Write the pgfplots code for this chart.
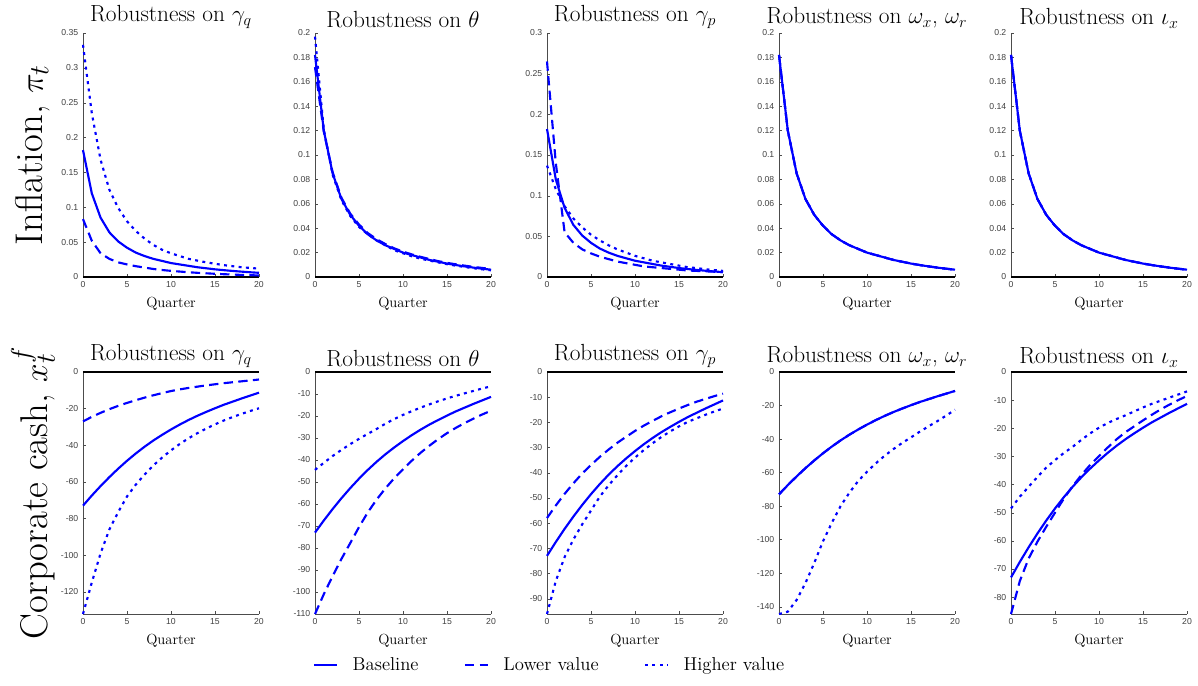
\documentclass[border=0pt]{standalone}
\usepackage{fontspec}
\usepackage{pgfplots}
\usepackage{pgfplotstable}
\pgfplotsset{compat=1.18}
\newfontfamily\tickfont{Liberation Sans}

% inflation responses (row 1)
\pgfplotstableread{
t  base   gqL    gqH    thL    thH    gpL   gpH
0  0.182  0.083  0.333  0.172  0.197  0.265 0.137
1  0.120  0.052  0.235  0.119  0.121  0.140 0.108
2  0.085  0.034  0.168  0.086  0.084  0.055 0.087
3  0.064  0.026  0.125  0.065  0.063  0.042 0.072
4  0.051  0.021  0.099  0.052  0.050  0.034 0.061
5  0.042  0.018  0.080  0.043  0.041  0.029 0.052
6  0.035  0.0155 0.066  0.036  0.035  0.025 0.045
7  0.030  0.0135 0.055  0.031  0.030  0.022 0.039
8  0.026  0.0115 0.046  0.027  0.026  0.019 0.034
9  0.023  0.0100 0.039  0.0235 0.022  0.017 0.030
10 0.020  0.0088 0.034  0.0208 0.0195 0.015 0.026
11 0.018  0.0078 0.030  0.0185 0.017  0.013 0.023
12 0.016  0.0068 0.026  0.0165 0.015  0.012 0.020
13 0.014  0.0060 0.0235 0.0147 0.0135 0.011 0.018
14 0.0125 0.0053 0.021  0.013  0.012  0.010 0.016
15 0.011  0.0046 0.019  0.0116 0.0105 0.009 0.014
16 0.0098 0.0040 0.017  0.0104 0.0093 0.008 0.012
17 0.0087 0.0035 0.0155 0.0093 0.0082 0.0075 0.011
18 0.0077 0.0030 0.014  0.0083 0.0072 0.007 0.0095
19 0.0068 0.0026 0.013  0.0074 0.0063 0.0065 0.0085
20 0.006  0.0022 0.012  0.0066 0.0055 0.006 0.0075
}\infl

% corporate cash responses (row 2)
\pgfplotstableread{
t  base  gqL   gqH    thL    thH   gpL   gpH   wxH    ixL   ixH
0  -73   -27   -132.2 -110   -44.5 -58   -96.1 -144.4 -86   -48.5
1  -67.5 -24.5 -115   -101   -41.3 -53   -83   -143   -74.3 -44.3
2  -62.3 -22.3 -99    -92.8  -38.2 -48.4 -73.5 -136   -66.3 -40.8
3  -57.4 -20.3 -86    -85    -35.4 -44.2 -66.5 -126   -60.3 -37.3
4  -52.8 -18.5 -76.5  -77.8  -32.8 -40.3 -60.5 -114   -55   -34
5  -48.5 -16.9 -68    -70.5  -30.4 -36.9 -55   -101   -50   -31.3
6  -44.5 -15.4 -61.5  -63.8  -28.1 -33.7 -49.5 -90    -45   -28.8
7  -40.8 -14.0 -56    -58    -25.9 -30.8 -45   -80    -40.6 -26.6
8  -37.4 -12.7 -51    -52.9  -23.5 -28.1 -41   -72    -36.6 -24.1
9  -34.3 -11.5 -46.7  -48.3  -21.4 -25.7 -37.3 -65    -33   -21.8
10 -31.4 -10.4 -42.8  -44.3  -19.5 -23.4 -34   -59.5  -29.9 -19.8
11 -28.7 -9.5  -39.3  -40.3  -17.8 -21.3 -31   -54.5  -26.8 -18.1
12 -26.2 -8.7  -36.2  -36.7  -16.2 -19.4 -28.3 -50    -23.9 -16.7
13 -23.9 -8.0  -33.4  -33.5  -14.7 -17.6 -25.8 -46    -21.4 -15.4
14 -21.8 -7.3  -30.9  -30.5  -13.3 -16   -23.6 -42.3  -19.3 -14
15 -19.8 -6.7  -28.6  -27.8  -12   -14.5 -21.6 -39    -17.2 -12.6
16 -17.9 -6.1  -26.5  -25.4  -10.8 -13.1 -19.8 -35.6  -15.2 -11.3
17 -16.2 -5.6  -24.6  -23.2  -9.7  -11.8 -18.4 -32.4  -13.3 -10.2
18 -14.5 -5.1  -22.9  -21.2  -8.6  -10.7 -17   -29.3  -11.6 -9.1
19 -12.9 -4.6  -21.3  -19.3  -7.5  -9.6  -15.7 -26    -10   -8
20 -11.3 -4.1  -19.8  -17.6  -6.5  -8.6  -14.5 -22.5  -8.5  -6.9
}\cash

\pgfplotsset{
  panel/.style={
    scale only axis, width=132pt, anchor=north west,
    xmin=0, xmax=20, xtick={0,5,10,15,20},
    axis lines*=left,
    axis line style={black!70, line width=0.5pt, -},
    tick align=inside, major tick length=2pt, tick style={black!70},
    tick label style={font=\tickfont\fontsize{6.5}{7}\selectfont, text=black!75},
    /pgf/number format/assume math mode=true,
    scaled y ticks=false,
    yticklabel style={/pgf/number format/fixed, /pgf/number format/precision=2},
    xlabel={Quarter},
    xlabel style={font=\fontsize{11}{13}\selectfont, at={(axis description cs:0.5,0)}, anchor=center, yshift=-20pt},
    title style={font=\fontsize{17.5}{20}\selectfont, yshift=-6pt},
    ylabel style={font=\fontsize{29}{33}\selectfont, at={(axis description cs:-0.284,0.5)}, anchor=center},
    clip=false,
  },
  row1/.style={panel, height=183pt, ymin=0},
  row2/.style={panel, height=181.5pt, ymax=0},
  base/.style={blue, line width=1.6pt},
  low/.style={blue, line width=1.6pt, dash pattern=on 7pt off 4pt},
  high/.style={blue, line width=1.6pt, dash pattern=on 2.2pt off 3.3pt},
  zero/.style={black, line width=1.5pt, forget plot},
}

\begin{document}
\begin{tikzpicture}
\path[use as bounding box] (0,0) rectangle (898.5pt,-513.75pt);

% ---- row 1: inflation
\begin{axis}[row1, at={(62.25pt,-24.75pt)}, ymax=0.35,
  ytick={0,0.05,0.1,0.15,0.2,0.25,0.3,0.35},
  title={Robustness on $\gamma_q$}, ylabel={Inflation, $\pi_t$}]
  \addplot[zero] coordinates {(0,0) (20,0)};
  \addplot[base] table[x=t, y=base] {\infl};
  \addplot[low]  table[x=t, y=gqL] {\infl};
  \addplot[high] table[x=t, y=gqH] {\infl};
\end{axis}

\begin{axis}[row1, at={(236.25pt,-24.75pt)}, ymax=0.2,
  ytick={0,0.02,0.04,0.06,0.08,0.1,0.12,0.14,0.16,0.18,0.2},
  title={Robustness on $\theta$}]
  \addplot[zero] coordinates {(0,0) (20,0)};
  \addplot[base] table[x=t, y=base] {\infl};
  \addplot[low]  table[x=t, y=thL] {\infl};
  \addplot[high] table[x=t, y=thH] {\infl};
\end{axis}

\begin{axis}[row1, at={(410.25pt,-24.75pt)}, ymax=0.3,
  ytick={0,0.05,0.1,0.15,0.2,0.25,0.3},
  title={Robustness on $\gamma_p$}]
  \addplot[zero] coordinates {(0,0) (20,0)};
  \addplot[base] table[x=t, y=base] {\infl};
  \addplot[low]  table[x=t, y=gpL] {\infl};
  \addplot[high] table[x=t, y=gpH] {\infl};
\end{axis}

\begin{axis}[row1, at={(584.25pt,-24.75pt)}, ymax=0.2,
  ytick={0,0.02,0.04,0.06,0.08,0.1,0.12,0.14,0.16,0.18,0.2},
  title={Robustness on $\omega_x$, $\omega_r$}]
  \addplot[zero] coordinates {(0,0) (20,0)};
  \addplot[base] table[x=t, y=base] {\infl};
  \addplot[low]  table[x=t, y=base] {\infl};
  \addplot[high] table[x=t, y=base] {\infl};
\end{axis}

\begin{axis}[row1, at={(758.25pt,-24.75pt)}, ymax=0.2,
  ytick={0,0.02,0.04,0.06,0.08,0.1,0.12,0.14,0.16,0.18,0.2},
  title={Robustness on $\iota_x$}]
  \addplot[zero] coordinates {(0,0) (20,0)};
  \addplot[base] table[x=t, y=base] {\infl};
  \addplot[low]  table[x=t, y=base] {\infl};
  \addplot[high] table[x=t, y=base] {\infl};
\end{axis}

% ---- row 2: corporate cash
\begin{axis}[row2, at={(62.25pt,-279pt)}, ymin=-132.2,
  ytick={-120,-100,-80,-60,-40,-20,0},
  title={Robustness on $\gamma_q$}, ylabel={Corporate cash, $x_t^f$}]
  \addplot[zero] coordinates {(0,0) (20,0)};
  \addplot[base] table[x=t, y=base] {\cash};
  \addplot[low]  table[x=t, y=gqL] {\cash};
  \addplot[high] table[x=t, y=gqH] {\cash};
\end{axis}

\begin{axis}[row2, at={(236.25pt,-279pt)}, ymin=-110,
  ytick={-110,-100,-90,-80,-70,-60,-50,-40,-30,-20,-10,0},
  title={Robustness on $\theta$}]
  \addplot[zero] coordinates {(0,0) (20,0)};
  \addplot[base] table[x=t, y=base] {\cash};
  \addplot[low]  table[x=t, y=thL] {\cash};
  \addplot[high] table[x=t, y=thH] {\cash};
\end{axis}

\begin{axis}[row2, at={(410.25pt,-279pt)}, ymin=-96.1,
  ytick={-90,-80,-70,-60,-50,-40,-30,-20,-10,0},
  title={Robustness on $\gamma_p$},
  legend style={at={(0.017,-0.211)}, anchor=center, draw=none, fill=none,
    legend columns=3, font=\fontsize{14}{16}\selectfont,
    /tikz/every odd column/.append style={column sep=9pt},
    /tikz/every even column/.append style={column sep=32pt}}]
  \addplot[zero] coordinates {(0,0) (20,0)};
  \addplot[base] table[x=t, y=base] {\cash};
  \addplot[low]  table[x=t, y=gpL] {\cash};
  \addplot[high] table[x=t, y=gpH] {\cash};
  \legend{Baseline, Lower value, Higher value}
\end{axis}

\begin{axis}[row2, at={(584.25pt,-279pt)}, ymin=-144.4,
  ytick={-140,-120,-100,-80,-60,-40,-20,0},
  title={Robustness on $\omega_x$, $\omega_r$}]
  \addplot[zero] coordinates {(0,0) (20,0)};
  \addplot[base] table[x=t, y=base] {\cash};
  \addplot[low]  table[x=t, y=base] {\cash};
  \addplot[high] table[x=t, y=wxH] {\cash};
\end{axis}

\begin{axis}[row2, at={(758.25pt,-279pt)}, ymin=-86,
  ytick={-80,-70,-60,-50,-40,-30,-20,-10,0},
  title={Robustness on $\iota_x$}]
  \addplot[zero] coordinates {(0,0) (20,0)};
  \addplot[base] table[x=t, y=base] {\cash};
  \addplot[low]  table[x=t, y=ixL] {\cash};
  \addplot[high] table[x=t, y=ixH] {\cash};
\end{axis}
\end{tikzpicture}
\end{document}
